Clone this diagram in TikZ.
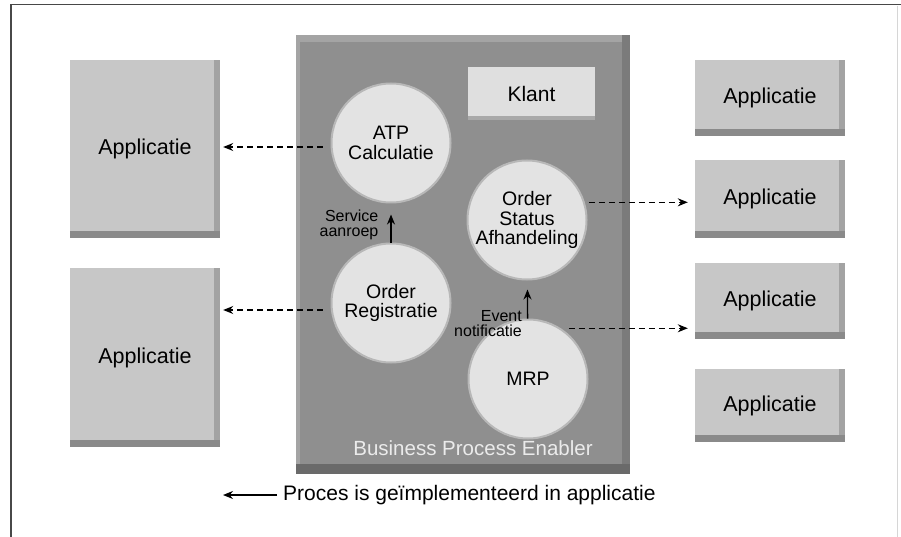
\documentclass[tikz,border=0pt]{standalone}
\usepackage{fontspec}
\setmainfont{Liberation Sans}
\usetikzlibrary{arrows.meta,positioning}

\definecolor{appfill}{HTML}{C7C7C7}
\definecolor{appshade}{HTML}{8A8A8A}
\definecolor{appside}{HTML}{A3A3A3}
\definecolor{bpefill}{HTML}{8F8F8F}
\definecolor{bpeshade}{HTML}{6A6A6A}
\definecolor{bpeside}{HTML}{7B7B7B}
\definecolor{bpelight}{HTML}{A4A4A4}
\definecolor{circfill}{HTML}{E3E3E3}
\definecolor{circedge}{HTML}{B8B8B8}
\definecolor{klantfill}{HTML}{DFDFDF}
\definecolor{klantshade}{HTML}{A9A9A9}
\definecolor{framegray}{HTML}{484848}
\definecolor{faintgray}{HTML}{D6D6D6}

\tikzstyle{app} = [rectangle, fill=appfill, minimum width=150pt, inner sep=0pt,
    font=\fontsize{21.5}{24}\selectfont,
    path picture={
      \fill[appside] ([xshift=-6pt]path picture bounding box.north east)
        rectangle (path picture bounding box.south east);
      \fill[appshade] ([yshift=7pt]path picture bounding box.south west)
        rectangle (path picture bounding box.south east);
    }]
\tikzstyle{bpe} = [rectangle, fill=bpefill, inner sep=0pt,
    path picture={
      \fill[bpelight] (path picture bounding box.north west)
        rectangle ([yshift=-7pt]path picture bounding box.north east);
      \fill[bpelight] (path picture bounding box.north west)
        rectangle ([xshift=4pt]path picture bounding box.south west);
      \fill[bpeside] ([xshift=-8pt]path picture bounding box.north east)
        rectangle (path picture bounding box.south east);
      \fill[bpeshade] ([yshift=10pt]path picture bounding box.south west)
        rectangle (path picture bounding box.south east);
    }]
\tikzstyle{klant} = [rectangle, fill=klantfill, inner sep=0pt,
    font=\fontsize{21}{24}\selectfont,
    path picture={
      \fill[klantshade] ([yshift=4pt]path picture bounding box.south west)
        rectangle (path picture bounding box.south east);
    }]
\tikzstyle{proc} = [circle, fill=circfill, draw=circedge, line width=2pt,
    minimum size=119pt, inner sep=0pt, align=center,
    font=\fontsize{19.5}{19.5}\selectfont]
\tikzstyle{lbl} = [align=right, inner sep=1pt, font=\fontsize{16}{15}\selectfont]
\tikzstyle{call} = [->, line width=1.3pt]
\tikzstyle{link} = [->, line width=1.2pt, dash pattern=on 6pt off 4pt]

\begin{document}
\begin{tikzpicture}[x=1pt, y=-1pt, >={Stealth[length=10pt,width=8pt]}]
    \useasboundingbox (0,0) rectangle (901,537);
    % frame
    \draw[framegray, line width=1.5pt] (11,537) -- (11,4.5) -- (901,4.5);
    \draw[faintgray, line width=1pt] (897,6) -- (897,537);

    % business process enabler
    \node [bpe, minimum width=334pt, minimum height=439pt] (bpe) at (463,254.5) {};
    \node [text=white!92!black, font=\fontsize{20.5}{24}\selectfont] (bpelbl) at (473,448) {Business Process Enabler};
    \node [klant, minimum width=127pt, minimum height=53pt] (klant) at (531.5,93.5) {Klant};

    \node [proc] (atp) at (391,143) {ATP\\Calculatie};
    \node [proc] (reg) at (391,303) {Order\\Registratie};
    \node [proc] (osa) at (527,220) {Order\\Status\\Afhandeling};
    \node [proc] (mrp) at (528,379) {MRP};

    % applicaties
    \node [app, minimum height=178pt] (lapp1) at (145,149) {Applicatie};
    \node [app, minimum height=179pt] (lapp2) at (145,357.5) {Applicatie};
    \node [app, minimum height=76pt] (rapp1) at (770,98) {Applicatie};
    \node [app, minimum height=78pt] (rapp2) at (770,199) {Applicatie};
    \node [app, minimum height=76pt] (rapp3) at (770,301) {Applicatie};
    \node [app, minimum height=73pt] (rapp4) at (770,405.5) {Applicatie};

    % connectors
    \draw [call, shorten >=11pt] (reg) -- node [lbl, left, pos=0.45, xshift=-11pt] (svc) {Service\\aanroep} (atp);
    \draw [call, shorten >=9pt] (mrp) -- (osa);
    \node [lbl, anchor=east] (evt) at ([shift={(-5pt,-5pt)}]mrp.north) {Event\\notificatie};
    \draw [link, shorten <=8pt, shorten >=3pt] ([yshift=-4pt]atp.west) -- ([yshift=-4pt]atp.west -| lapp1.east);
    \draw [link, shorten <=8pt, shorten >=3pt] ([yshift=-7pt]reg.west) -- ([yshift=-7pt]reg.west -| lapp2.east);
    \draw [link, shorten <=4pt, shorten >=7pt] (osa.17) -- (osa.17 -| rapp2.west);
    \draw [link, shorten <=8pt, shorten >=7pt] (mrp.57) -- (mrp.57 -| rapp3.west);

    % legend
    \coordinate (legtip) at (223,495);
    \node [anchor=west, inner sep=0pt, font=\fontsize{21}{24}\selectfont] (legend) at (283,495) {Proces is geïmplementeerd in applicatie};
    \draw [call] ([xshift=-6pt]legend.west) -- (legtip);
\end{tikzpicture}
\end{document}
